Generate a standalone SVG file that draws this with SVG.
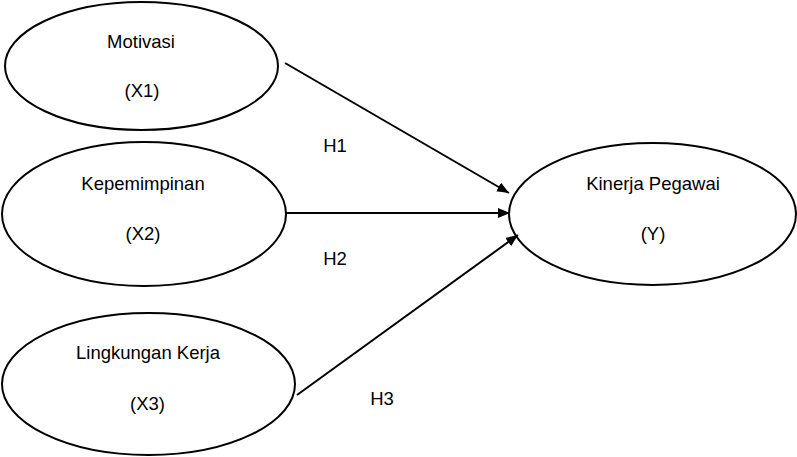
<svg xmlns="http://www.w3.org/2000/svg" width="797" height="457" viewBox="0 0 797 457">
<defs>
<style>
.n{fill:#fff;stroke:#000;stroke-width:2}
.t{font-family:"Liberation Sans",Arial,sans-serif;font-size:18.5px;fill:#000;text-anchor:middle}
.c{stroke:#000;stroke-width:2;fill:none;marker-end:url(#ah)}
</style>
<marker id="ah" viewBox="0 0 12 10" refX="12" refY="5" markerWidth="12" markerHeight="10" markerUnits="userSpaceOnUse" orient="auto">
<path d="M0,0 L12,5 L0,10 Z" fill="#000"/>
</marker>
</defs>
<rect width="797" height="457" fill="#fff"/>
<g id="x1">
<ellipse class="n" cx="141.5" cy="66" rx="136.5" ry="64"/>
<text class="t" x="141" y="48">Motivasi</text>
<text class="t" x="142" y="97">(X1)</text>
</g>
<g id="x2">
<ellipse class="n" cx="144" cy="214" rx="142" ry="72"/>
<text class="t" x="143" y="190">Kepemimpinan</text>
<text class="t" x="143" y="240">(X2)</text>
</g>
<g id="x3">
<ellipse class="n" cx="148.5" cy="384" rx="146.5" ry="71"/>
<text class="t" x="148" y="359">Lingkungan Kerja</text>
<text class="t" x="147.5" y="410">(X3)</text>
</g>
<g id="y">
<ellipse class="n" cx="652.5" cy="214" rx="143.5" ry="71"/>
<text class="t" x="653" y="190">Kinerja Pegawai</text>
<text class="t" x="653" y="240">(Y)</text>
</g>
<g id="connectors">
<line class="c" x1="285" y1="63" x2="509" y2="193"/>
<line class="c" x1="286" y1="213" x2="510" y2="213"/>
<line class="c" x1="297" y1="395" x2="518" y2="235"/>
<text class="t" x="335" y="152">H1</text>
<text class="t" x="335" y="265">H2</text>
<text class="t" x="382" y="405">H3</text>
</g>
</svg>
